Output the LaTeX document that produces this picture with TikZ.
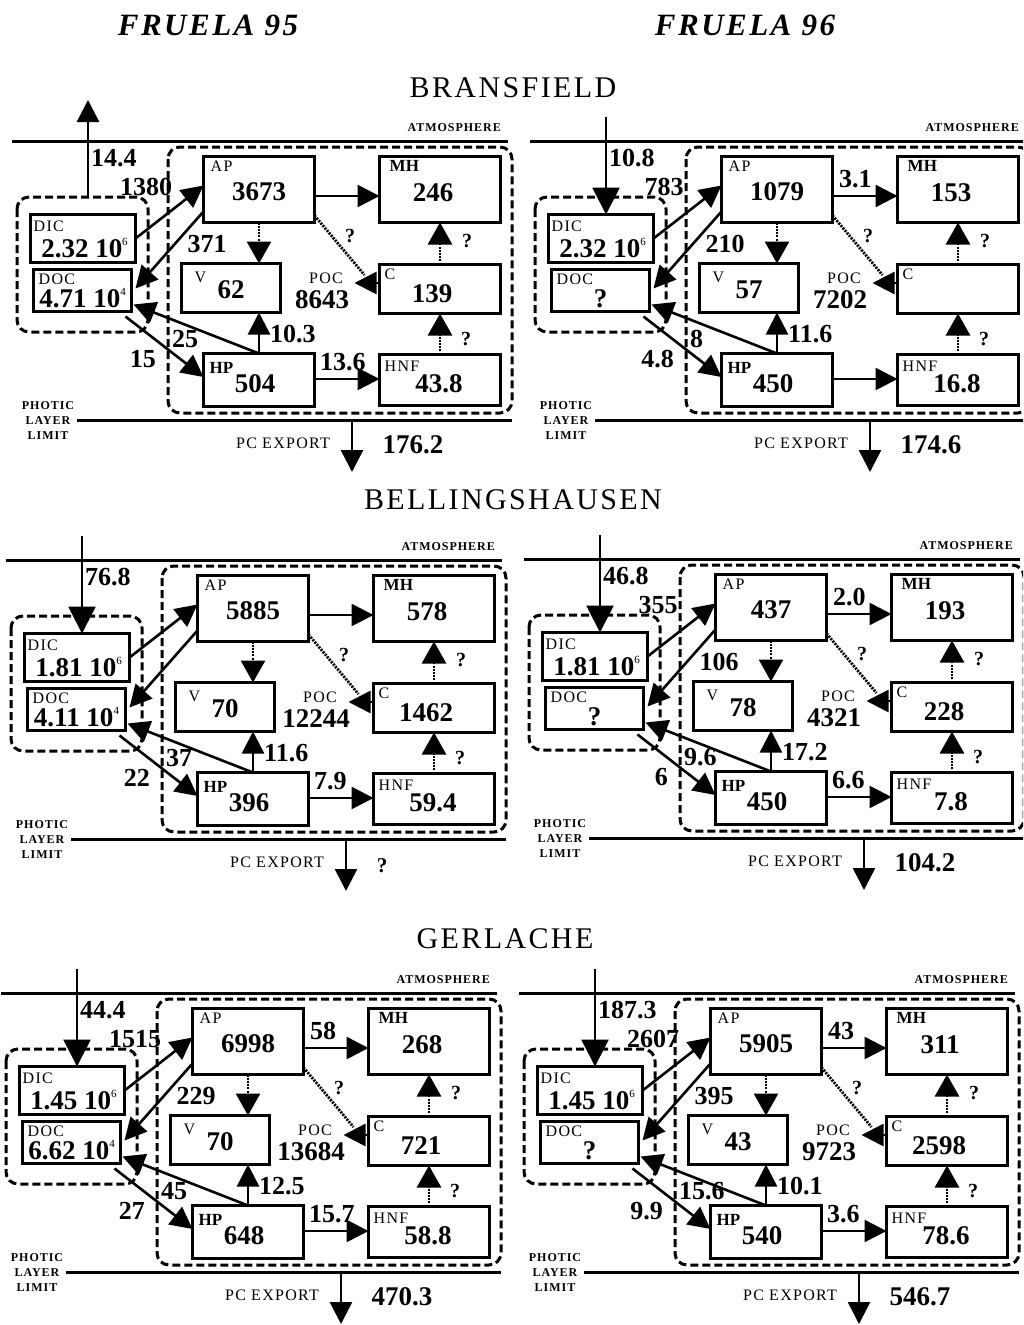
\documentclass[tikz,border=0pt]{standalone}
\usepackage{fontspec}
\setmainfont{Liberation Serif}
\newfontfamily\lsp[LetterSpace=8]{Liberation Serif}
\newfontfamily\tsp[LetterSpace=8]{Liberation Serif}
\usetikzlibrary{arrows.meta,calc}
\newif\ifatmup
\newcommand\maybe[2]{\ifx#1\empty\else#2\fi}
\newcommand\supx[1]{\raisebox{12pt}{\fontsize{11}{11}\selectfont\mdseries #1}}
\tikzset{
  box/.style 2 args={draw, line width=2.6pt, minimum width=#1pt, minimum height=#2pt, inner sep=0pt, outer sep=0pt},
  hline/.style={line width=3pt},
  dbox/.style={line width=3pt, dash pattern=on 8pt off 4pt, rounded corners=12pt},
  arr/.style={line width=2.6pt, -{Triangle[length=22pt,width=22pt]}},
  arrbig/.style={line width=2.6pt, -{Triangle[length=27pt,width=27pt]}},
  darr/.style={line width=2.8pt, dash pattern=on 2pt off 1.2pt, -{Triangle[length=22pt,width=24pt]}},
  dline/.style={line width=2.8pt, dash pattern=on 2pt off 1.2pt},
  val/.style={font=\fontsize{27}{27}\selectfont\bfseries, inner sep=0pt, anchor=base},
  elab/.style={font=\fontsize{26}{26}\selectfont\bfseries, inner sep=0pt},
  slab/.style={font=\lsp\fontsize{16}{16}\selectfont, inner sep=0pt, anchor=base west},
  blab/.style={font=\fontsize{17}{17}\selectfont\bfseries, inner sep=0pt, anchor=base west},
  qm/.style={font=\fontsize{20}{20}\selectfont\bfseries, inner sep=0pt, anchor=base},
  atmtxt/.style={font=\lsp\fontsize{12}{12}\selectfont\bfseries, inner sep=0pt, anchor=base east},
  phtxt/.style={font=\lsp\fontsize{12}{15}\selectfont\bfseries, inner sep=0pt, align=center},
  pctxt/.style={font=\lsp\fontsize{16}{16}\selectfont, inner sep=0pt, anchor=base},
  ttl/.style={font=\tsp\fontsize{31}{31}\selectfont\bfseries\itshape, inner sep=0pt, anchor=base},
  reg/.style={font=\tsp\fontsize{30}{30}\selectfont, inner sep=0pt, anchor=base},
}
\newcommand\drawpanel[3]{%
\def\dx{#2}\def\dy{#3}%
\coordinate (#1atmL) at (\dx+12,\dy+141);
\coordinate (#1atmR) at (\dx+508,\dy+141);
\draw[hline] (#1atmL) -- (#1atmR);
\coordinate (#1phL) at (\dx+77,\dy+420);
\coordinate (#1phR) at (\dx+512,\dy+420);
\draw[hline] (#1phL) -- (#1phR);
\node[atmtxt] (#1atm) at (\dx+501,\dy+131) {ATMOSPHERE};
\node[phtxt] (#1ph) at (\dx+48,\dy+421) {PHOTIC\\LAYER\\LIMIT};
\draw[dbox] (\dx+17,\dy+197) rectangle (\dx+148,\dy+332);
\draw[dbox] (\dx+168,\dy+147) rectangle (\dx+512,\dy+413);
% boxes
\node[box={105}{48}] (#1DIC) at (\dx+83,\dy+238.5) {};
\node[box={98}{42}] (#1DOC) at (\dx+82.5,\dy+290.5) {};
\node[box={111}{66}] (#1AP) at (\dx+259,\dy+189.5) {};
\node[box={121}{66}] (#1MH) at (\dx+440,\dy+189.5) {};
\node[box={99}{49}] (#1V) at (\dx+231,\dy+288) {};
\node[box={121}{49}] (#1C) at (\dx+440,\dy+289) {};
\node[box={111}{53}] (#1HP) at (\dx+259,\dy+380) {};
\node[box={121}{51}] (#1HNF) at (\dx+440,\dy+380) {};
% box labels
\node[slab] (#1DICl) at ($(#1DIC.north west)+(3,17)$) {DIC};
\node[slab] (#1DOCl) at ($(#1DOC.north west)+(5,15)$) {DOC};
\node[slab] (#1APl) at ($(#1AP.north west)+(7,15)$) {AP};
\node[blab] (#1MHl) at ($(#1MH.north west)+(10,15)$) {MH};
\node[slab] (#1Vl) at ($(#1V.north west)+(13,19)$) {V};
\node[slab] (#1Cl) at ($(#1C.north west)+(5,15)$) {C};
\node[blab] (#1HPl) at ($(#1HP.north west)+(6,20)$) {HP};
\node[slab] (#1HNFl) at ($(#1HNF.north west)+(5,17)$) {HNF};
% values
\node[val] (#1DICv) at ($(#1DIC.center)+(1.5,18.5)$) {\vDIC};
\node[val] (#1DOCv) at ($(#1DOC.center)+(0,16.5)$) {\vDOC};
\node[val] (#1APv) at ($(#1AP.center)+(0,10.5)$) {\vAP};
\node[val] (#1MHv) at ($(#1MH.center)+(-7,12)$) {\vMH};
\node[val] (#1Vv) at ($(#1V.center)+(0,10)$) {\vV};
\maybe\vC{\node[val] (#1Cv) at ($(#1C.center)+(-8,13)$) {\vC};}
\node[val] (#1HPv) at ($(#1HP.center)+(-4,12)$) {\vHP};
\node[val] (#1HNFv) at ($(#1HNF.center)+(-1,12)$) {\vHNF};
\node[slab, anchor=base] (#1POCl) at (\dx+326,\dy+283) {POC};
\node[val] (#1POCv) at (\dx+322,\dy+308) {\vPOC};
% arrows
\ifatmup
  \coordinate (#1atmS) at (\dx+88,\dy+197);
  \coordinate (#1atmT) at (\dx+88,\dy+100);
  \draw[arr] (#1atmS) -- (#1atmT);
\else
  \coordinate (#1atmT) at (\dx+88,\dy+117);
  \draw[arrbig] (#1atmT) -- ($(#1DIC.north)+(5,0)$);
\fi
\draw[arr] (#1DIC.east) -- ($(#1AP.west)+(0,-4)$);
\draw[arr] ($(#1AP.west)+(0,22)$) -- ($(#1DOC.east)+(4,-2)$);
\draw[arr] ($(#1AP.east)+(0,6.5)$) -- ($(#1MH.west)+(0,6.5)$);
\draw[darr] (#1AP.south) -- (#1AP.south |- #1V.north);
\coordinate (#1POCj) at ($(#1C.west)+(-15,-14)$);
\draw[dline] ($(#1AP.east)+(0,26)$) -- (#1POCj);
\coordinate (#1POCt) at ($(#1C.west)+(-25,-6)$);
\draw[arr] ($(#1C.west)+(0,-6)$) -- (#1POCt);
\draw[darr] (#1C.north) -- (#1MH.south);
\draw[darr] (#1HNF.north) -- (#1C.south);
\draw[arr] ($(#1HP.east)+(0,-1)$) -- ($(#1HNF.west)+(0,-1)$);
\draw[arr] (#1HP.north) -- (#1HP.north |- #1V.south);
\draw[arr] (#1HP.north) -- ($(#1DOC.east)+(2,14)$);
\draw[arr] ($(#1DOC.south east)+(-6,5)$) -- ($(#1HP.west)+(0,-3)$);
\coordinate (#1expT) at (\dx+352,\dy+472);
\draw[arr] (#1phL -| #1expT) -- (#1expT);
% flow labels
\node[elab, anchor=base west] (#1lATM) at (\dx+91,\dy+166) {\vATM};
\maybe\lDA{\node[elab, anchor=base] (#1lDA) at (\dx+146,\dy+195) {\lDA};}
\maybe\lAD{\node[elab, anchor=base] (#1lAD) at (\dx+207,\dy+252) {\lAD};}
\maybe\lAM{\node[elab, anchor=base west] (#1lAM) at (\dx+321,\dy+187) {\lAM};}
\node[elab, anchor=base west] (#1lHV) at (\dx+270,\dy+342) {\lHV};
\node[elab, anchor=base west] (#1lHD) at (\dx+172,\dy+347) {\lHD};
\node[elab, anchor=base east] (#1lDH) at (\dx+156,\dy+367) {\lDH};
\maybe\lHN{\node[elab, anchor=base west] (#1lHN) at (\dx+320,\dy+370) {\lHN};}
\node[qm] (#1q1) at (\dx+350,\dy+242) {?};
\node[qm] (#1q2) at (\dx+467,\dy+247) {?};
\node[qm] (#1q3) at (\dx+466,\dy+345) {?};
\node[pctxt] (#1pc) at (\dx+283,\dy+448) {PC EXPORT};
\node[val] (#1exp) at (\dx+\expx,\dy+453) {\vEXP};
}
\begin{document}
\begin{tikzpicture}[x=1pt,y=-1pt]
\useasboundingbox (0,0) rectangle (1023,1325);
\fill[white] (0,0) rectangle (1023,1325);
\clip (0,0) rectangle (1023,1325);
\node[ttl] (t95) at (208,35) {FRUELA 95};
\node[ttl] (t96) at (745,35) {FRUELA 96};
\node[reg] (rB) at (513,97) {BRANSFIELD};
\node[reg] (rBel) at (513,509) {BELLINGSHAUSEN};
\node[reg] (rG) at (505,948) {GERLACHE};
% Panel 1: Bransfield 95
\atmuptrue
\def\vATM{14.4}\def\vDIC{2.32 10\supx{6}}\def\vDOC{4.71 10\supx{4}}
\def\vAP{3673}\def\vMH{246}\def\vV{62}\def\vPOC{8643}\def\vC{139}\def\vHP{504}\def\vHNF{43.8}
\def\lDA{1380}\def\lAD{371}\def\lAM{}\def\lHV{10.3}\def\lHD{25}\def\lDH{15}\def\lHN{13.6}
\def\vEXP{176.2}\def\expx{413}
\drawpanel{a}{0}{0}
% Panel 2: Bransfield 96
\atmupfalse
\def\vATM{10.8}\def\vDIC{2.32 10\supx{6}}\def\vDOC{?}
\def\vAP{1079}\def\vMH{153}\def\vV{57}\def\vPOC{7202}\def\vC{}\def\vHP{450}\def\vHNF{16.8}
\def\lDA{783}\def\lAD{210}\def\lAM{3.1}\def\lHV{11.6}\def\lHD{8}\def\lDH{4.8}\def\lHN{}
\def\vEXP{174.6}\def\expx{413}
\drawpanel{b}{518}{0}
% Panel 3: Bellingshausen 95
\def\vATM{76.8}\def\vDIC{1.81 10\supx{6}}\def\vDOC{4.11 10\supx{4}}
\def\vAP{5885}\def\vMH{578}\def\vV{70}\def\vPOC{12244}\def\vC{1462}\def\vHP{396}\def\vHNF{59.4}
\def\lDA{}\def\lAD{}\def\lAM{}\def\lHV{11.6}\def\lHD{37}\def\lDH{22}\def\lHN{7.9}
\def\vEXP{{\fontsize{21}{21}\selectfont ?}}\def\expx{388}
\drawpanel{c}{-6}{419}
% Panel 4: Bellingshausen 96
\def\vATM{46.8}\def\vDIC{1.81 10\supx{6}}\def\vDOC{?}
\def\vAP{437}\def\vMH{193}\def\vV{78}\def\vPOC{4321}\def\vC{228}\def\vHP{450}\def\vHNF{7.8}
\def\lDA{355}\def\lAD{106}\def\lAM{2.0}\def\lHV{17.2}\def\lHD{9.6}\def\lDH{6}\def\lHN{6.6}
\def\vEXP{104.2}\def\expx{413}
\drawpanel{d}{512}{418}
% Panel 5: Gerlache 95
\def\vATM{44.4}\def\vDIC{1.45 10\supx{6}}\def\vDOC{6.62 10\supx{4}}
\def\vAP{6998}\def\vMH{268}\def\vV{70}\def\vPOC{13684}\def\vC{721}\def\vHP{648}\def\vHNF{58.8}
\def\lDA{1515}\def\lAD{229}\def\lAM{58}\def\lHV{12.5}\def\lHD{45}\def\lDH{27}\def\lHN{15.7}
\def\vEXP{470.3}\def\expx{413}
\drawpanel{e}{-11}{852}
% Panel 6: Gerlache 96
\def\vATM{187.3}\def\vDIC{1.45 10\supx{6}}\def\vDOC{?}
\def\vAP{5905}\def\vMH{311}\def\vV{43}\def\vPOC{9723}\def\vC{2598}\def\vHP{540}\def\vHNF{78.6}
\def\lDA{2607}\def\lAD{395}\def\lAM{43}\def\lHV{10.1}\def\lHD{15.6}\def\lDH{9.9}\def\lHN{3.6}
\def\vEXP{546.7}\def\expx{413}
\drawpanel{f}{507}{852}
\end{tikzpicture}
\end{document}
